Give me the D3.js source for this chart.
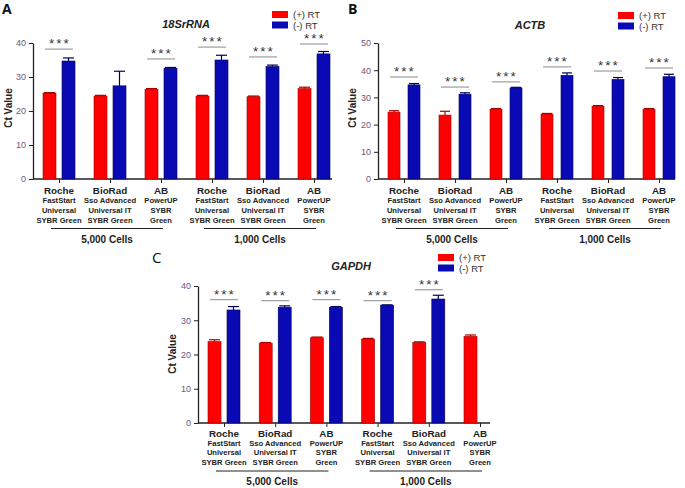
<!DOCTYPE html>
<html lang="en">
<head>
    <meta charset="UTF-8">
    <title>Ct values with and without RT</title>
    <style>
        body {
            margin: 0;
            padding: 0;
            background-color: #ffffff;
            font-family: "Liberation Sans", Arial, sans-serif;
        }
        svg { display: block; }
        .tick text { fill: #6f5580; font-size: 9px; }
        .domain, .tick line { stroke: #222; }
    </style>
</head>
<body>
    <svg width="685" height="488"></svg>

    <script src="https://d3js.org/d3.v7.min.js"></script>
    <script>
        // Data
        let brands = ["Roche", "BioRad", "AB", "Roche", "BioRad", "AB"];
        let kits = [
            ["FastStart", "Universal", "SYBR Green"],
            ["Sso Advanced", "Universal IT", "SYBR Green"],
            ["PowerUP", "SYBR", "Green"],
            ["FastStart", "Universal", "SYBR Green"],
            ["Sso Advanced", "Universal IT", "SYBR Green"],
            ["PowerUP", "SYBR", "Green"]
        ];
        let cellGroups = ["5,000 Cells", "1,000 Cells"];
        let seriesNames = ["(+) RT", "(-) RT"];

        // 18SrRNA
        let rnaPlus = [25.3, 24.4, 26.4, 24.4, 24.2, 26.6];
        let rnaPlusErr = [0.1, 0.2, 0.2, 0.2, 0.2, 0.4];
        let rnaMinus = [34.7, 27.4, 32.6, 35.0, 33.1, 36.8];
        let rnaMinusErr = [0.9, 4.3, 0.2, 1.4, 0.4, 0.7];
        let rnaSig = [38.2, null, 35.3, 38.8, 35.9, 39.7];

        // ACTB
        let actbPlus = [24.6, 23.5, 25.7, 23.9, 26.8, 25.7];
        let actbPlusErr = [0.5, 1.4, 0.2, 0.2, 0.2, 0.2];
        let actbMinus = [34.6, 31.2, 33.5, 38.1, 36.6, 37.6];
        let actbMinusErr = [0.5, 0.5, 0.2, 0.9, 0.7, 0.9];
        let actbSig = [37.5, 33.8, 35.7, 41.2, 39.7, 40.8];

        // GAPDH (no (-) RT bar for the last AB 1,000 cells group)
        let gapdhPlus = [23.8, 23.3, 24.9, 24.5, 23.5, 25.3];
        let gapdhPlusErr = [0.5, 0.2, 0.2, 0.2, 0.2, 0.4];
        let gapdhMinus = [33.0, 33.8, 33.8, 34.4, 36.2, null];
        let gapdhMinusErr = [1.0, 0.4, 0.2, 0.1, 1.1, 0];
        let gapdhSig = [36.0, 35.7, 36.0, 35.7, 38.9, null];

        let yTicksA = [0, 10, 20, 30, 40];
        let yTicksB = [0, 10, 20, 30, 40, 50];

        let colors = { plus: "#ff0000", plusEdge: "#a00000", minus: "#0a0ab4", minusEdge: "#00005a" };

        let svg = d3.select("svg");

        function drawPanel(p) {
            let g = svg.append("g");
            let idx = d3.range(brands.length);

            let x = d3.scalePoint().domain(idx).range([p.c0, p.c1]);
            let y = d3.scaleLinear().domain([0, p.yMax]).range([p.y0, p.yTop]);

            // axes
            g.append("g")
                .attr("transform", `translate(${p.ax},0)`)
                .call(d3.axisLeft(y).tickValues(p.ticks).tickSize(4).tickPadding(3).tickSizeOuter(0))
                .call(a => a.select(".domain").attr("stroke-width", 1.3));

            g.append("line")
                .attr("x1", p.ax).attr("x2", p.axEnd)
                .attr("y1", p.y0).attr("y2", p.y0)
                .attr("stroke", "#222").attr("stroke-width", 1.3);

            g.append("g")
                .attr("transform", `translate(0,${p.y0})`)
                .call(d3.axisBottom(x).tickSize(4).tickFormat(""))
                .call(a => a.select(".domain").remove());

            // bars
            let bars = [
                { vals: p.plus, errs: p.plusErr, off: -16, fill: colors.plus, edge: colors.plusEdge },
                { vals: p.minus, errs: p.minusErr, off: p.gap, fill: colors.minus, edge: colors.minusEdge }
            ];
            bars.forEach(s => {
                let data = idx.filter(i => s.vals[i] != null);
                g.selectAll(null).data(data).enter().append("rect")
                    .attr("x", i => x(i) + s.off)
                    .attr("y", i => y(s.vals[i]))
                    .attr("width", p.bw)
                    .attr("height", i => p.y0 - y(s.vals[i]))
                    .attr("fill", s.fill)
                    .attr("stroke", s.edge)
                    .attr("stroke-width", 0.6);
                // upward error bars
                let eg = g.selectAll(null).data(data).enter().append("g")
                    .attr("stroke", s.edge).attr("stroke-width", 1.2);
                eg.append("line")
                    .attr("x1", i => x(i) + s.off + p.bw / 2)
                    .attr("x2", i => x(i) + s.off + p.bw / 2)
                    .attr("y1", i => y(s.vals[i]))
                    .attr("y2", i => y(s.vals[i] + s.errs[i]));
                eg.append("line")
                    .attr("x1", i => x(i) + s.off + 1)
                    .attr("x2", i => x(i) + s.off + p.bw - 1)
                    .attr("y1", i => y(s.vals[i] + s.errs[i]))
                    .attr("y2", i => y(s.vals[i] + s.errs[i]));
            });

            // significance
            let sigIdx = idx.filter(i => p.sig[i] != null);
            g.selectAll(null).data(sigIdx).enter().append("line")
                .attr("x1", i => x(i) - 14).attr("x2", i => x(i) + 14)
                .attr("y1", i => y(p.sig[i])).attr("y2", i => y(p.sig[i]))
                .attr("stroke", "#8a8a8a").attr("stroke-width", 1);
            g.selectAll(null).data(sigIdx).enter().append("text")
                .attr("x", i => x(i) + 1)
                .attr("y", i => y(p.sig[i]) - 1)
                .attr("text-anchor", "middle")
                .attr("font-size", "13.5px")
                .attr("letter-spacing", "2px")
                .attr("fill", "#333")
                .text("***");

            // category labels
            let lab = g.selectAll(null).data(idx).enter().append("text")
                .attr("text-anchor", "middle")
                .attr("fill", "#222")
                .attr("font-weight", "bold");
            lab.append("tspan")
                .attr("x", i => x(i)).attr("y", p.y0 + p.off[0])
                .attr("font-size", "9.8px")
                .text(i => brands[i]);
            [0, 1, 2].forEach(k => {
                lab.append("tspan")
                    .attr("x", i => x(i)).attr("y", p.y0 + p.off[k + 1])
                    .attr("font-size", "7.6px")
                    .text(i => kits[i][k]);
            });

            // cell number brackets
            cellGroups.forEach((name, j) => {
                let xa = x(j * 3) - 8, xb = x(j * 3 + 2) + 2;
                g.append("line")
                    .attr("x1", xa).attr("x2", xb)
                    .attr("y1", p.y0 + p.off[4]).attr("y2", p.y0 + p.off[4])
                    .attr("stroke", "#222").attr("stroke-width", 1.2);
                g.append("text")
                    .attr("x", (xa + xb) / 2).attr("y", p.y0 + p.off[5])
                    .attr("text-anchor", "middle")
                    .attr("font-size", "10px").attr("font-weight", "bold")
                    .attr("fill", "#222")
                    .text(name);
            });

            // y label
            g.append("text")
                .attr("transform", `translate(${p.ylx},${p.yly}) rotate(-90)`)
                .attr("text-anchor", "middle")
                .attr("font-size", "10px").attr("font-weight", "bold")
                .attr("fill", "#222")
                .text("Ct Value");

            // title
            g.append("text")
                .attr("x", p.tx).attr("y", p.ty)
                .attr("text-anchor", "middle")
                .attr("font-size", "11px").attr("font-weight", "bold").attr("font-style", "italic")
                .attr("fill", "#222")
                .text(p.title);

            // legend
            let lg = g.append("g").attr("transform", `translate(${p.lx},${p.ly})`);
            [colors.plus, colors.minus].forEach((c, k) => {
                lg.append("rect")
                    .attr("x", 0).attr("y", k * 10.5)
                    .attr("width", 16).attr("height", 7)
                    .attr("fill", c);
                lg.append("text")
                    .attr("x", 21).attr("y", k * 10.5 + 7)
                    .attr("font-size", "9.5px").attr("fill", "#333")
                    .text(seriesNames[k]);
            });

            // panel letter
            g.append("text")
                .attr("x", p.px).attr("y", p.py)
                .attr("font-size", p.pSize).attr("font-weight", p.pWeight)
                .attr("font-family", "'Open Sans', 'Liberation Sans', sans-serif")
                .attr("fill", "#111")
                .text(p.letter);
        }

        drawPanel({
            letter: "A", px: 2, py: 14, pSize: "14px", pWeight: "bold",
            title: "18SrRNA", tx: 186, ty: 28,
            lx: 272, ly: 11,
            plus: rnaPlus, plusErr: rnaPlusErr, minus: rnaMinus, minusErr: rnaMinusErr, sig: rnaSig,
            c0: 59, c1: 314, bw: 13, gap: 3,
            ax: 33, axEnd: 332, y0: 179, yTop: 43, yMax: 40, ticks: yTicksA,
            ylx: 12, yly: 108,
            off: [15, 24, 34, 44, 49.5, 64]
        });

        drawPanel({
            letter: "B", px: 348, py: 14, pSize: "14px", pWeight: "bold",
            title: "ACTB", tx: 530, ty: 29,
            lx: 618, ly: 12,
            plus: actbPlus, plusErr: actbPlusErr, minus: actbMinus, minusErr: actbMinusErr, sig: actbSig,
            c0: 404, c1: 659, bw: 12, gap: 4,
            ax: 378, axEnd: 675, y0: 179, yTop: 43, yMax: 50, ticks: yTicksB,
            ylx: 356, yly: 108,
            off: [14.5, 23.5, 33.5, 43.5, 49.5, 64]
        });

        drawPanel({
            letter: "C", px: 152, py: 263, pSize: "15px", pWeight: "normal",
            title: "GAPDH", tx: 351, ty: 270,
            lx: 438, ly: 254,
            plus: gapdhPlus, plusErr: gapdhPlusErr, minus: gapdhMinus, minusErr: gapdhMinusErr, sig: gapdhSig,
            c0: 224, c1: 480, bw: 13, gap: 3,
            ax: 198, axEnd: 490, y0: 423, yTop: 286, yMax: 40, ticks: yTicksA,
            ylx: 176, yly: 354,
            off: [14, 22.5, 32, 41.5, 48, 62]
        });
    </script>
</body>
</html>
